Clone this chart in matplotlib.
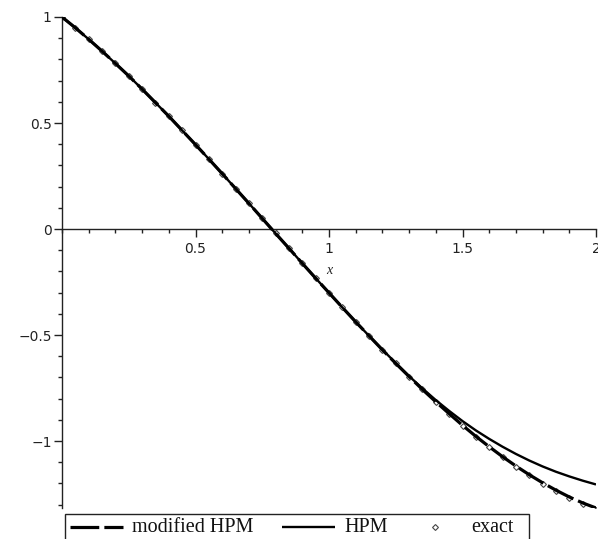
import matplotlib
matplotlib.use("Agg")
import matplotlib.pyplot as plt
from matplotlib.lines import Line2D
from matplotlib.patches import Rectangle
from matplotlib.ticker import MultipleLocator, FixedLocator

# ---- data ----
x_vals = [0.00, 0.05, 0.10, 0.15, 0.20, 0.25, 0.30, 0.35, 0.40, 0.45,
          0.50, 0.55, 0.60, 0.65, 0.70, 0.75, 0.80, 0.85, 0.90, 0.95,
          1.00, 1.05, 1.10, 1.15, 1.20, 1.25, 1.30, 1.35, 1.40, 1.45,
          1.50, 1.55, 1.60, 1.65, 1.70, 1.75, 1.80, 1.85, 1.90, 1.95, 2.00]

exact = [1.000, 0.949, 0.895, 0.839, 0.781, 0.722, 0.660, 0.596, 0.532, 0.465,
         0.398, 0.330, 0.261, 0.191, 0.121, 0.050, -0.021, -0.091, -0.162, -0.232,
         -0.301, -0.370, -0.438, -0.504, -0.570, -0.634, -0.696, -0.757, -0.815, -0.872,
         -0.927, -0.979, -1.029, -1.076, -1.121, -1.162, -1.201, -1.237, -1.270, -1.299, -1.325]

modified_hpm = [1.000, 0.949, 0.895, 0.839, 0.781, 0.722, 0.660, 0.596, 0.532, 0.465,
                0.398, 0.330, 0.261, 0.191, 0.121, 0.050, -0.021, -0.091, -0.162, -0.232,
                -0.301, -0.370, -0.438, -0.504, -0.570, -0.634, -0.696, -0.757, -0.815, -0.871,
                -0.926, -0.978, -1.027, -1.074, -1.118, -1.159, -1.197, -1.232, -1.264, -1.292, -1.316]

hpm = [1.000, 0.949, 0.895, 0.839, 0.781, 0.722, 0.660, 0.596, 0.532, 0.465,
       0.398, 0.330, 0.261, 0.191, 0.121, 0.050, -0.021, -0.091, -0.162, -0.232,
       -0.301, -0.370, -0.438, -0.504, -0.569, -0.632, -0.694, -0.752, -0.807, -0.858,
       -0.906, -0.950, -0.990, -1.027, -1.061, -1.092, -1.120, -1.145, -1.167, -1.187, -1.205]

x_ticks = [0.5, 1, 1.5, 2]
x_ticklabels = ["0.5", "1", "1.5", "2"]
y_ticks = [-1, -0.5, 0, 0.5, 1]
y_ticklabels = ["\u22121", "\u22120.5", "0", "0.5", "1"]
legend_labels = ["modified HPM", "HPM", "exact"]

W, H = 598, 539
fig = plt.figure(figsize=(W / 100, H / 100), dpi=100)
ax = fig.add_axes([62 / W, 31 / H, 534 / W, 491 / H])

def fp(px, py):
    return (px / W, 1 - py / H)

ax.plot(x_vals, exact, linestyle="none", marker="D", markersize=3.0,
        markerfacecolor="white", markeredgecolor="#444444", markeredgewidth=0.8, zorder=2)
ax.plot(x_vals, hpm, color="black", lw=1.7, solid_capstyle="butt", zorder=3)
ax.plot(x_vals, modified_hpm, color="black", lw=2.3, linestyle=(0, (9, 1.6)),
        dash_capstyle="butt", zorder=4)

ax.set_xlim(0, 2.0)
ax.set_ylim(-1.316, 1.0)

for s in ["top", "right"]:
    ax.spines[s].set_visible(False)
ax.spines["left"].set_position(("data", 0))
ax.spines["bottom"].set_position(("data", 0))
for s in ["left", "bottom"]:
    ax.spines[s].set_color("#222222")
    ax.spines[s].set_linewidth(1.0)

ax.xaxis.set_major_locator(FixedLocator(x_ticks))
ax.set_xticklabels(x_ticklabels)
ax.yaxis.set_major_locator(FixedLocator(y_ticks))
ax.set_yticklabels(y_ticklabels)
ax.xaxis.set_minor_locator(MultipleLocator(0.1))
ax.yaxis.set_minor_locator(MultipleLocator(0.1))
ax.tick_params(axis="both", which="major", direction="out", length=5.5, width=1.0,
               color="#222222", labelsize=10, labelcolor="#222222")
ax.tick_params(axis="both", which="minor", direction="out", length=3, width=1.0,
               color="#222222")
ax.tick_params(axis="x", which="major", pad=4)
ax.tick_params(axis="y", which="major", pad=2)

ax.text(1.0, -0.198, "x", fontfamily="Liberation Serif", fontstyle="italic",
        fontsize=10, ha="center", va="center", color="#222222")

# ---- legend (drawn below the axes as in the reference) ----
(bx0, by0) = fp(65, 545)
(bx1, by1) = fp(529, 514)
fig.add_artist(Rectangle((bx0, by0), bx1 - bx0, by1 - by0, transform=fig.transFigure,
                         facecolor="white", edgecolor="#222222", lw=1.0))
ly = 527
x0, y0 = fp(70, ly); x1, _ = fp(123, ly)
fig.add_artist(Line2D([x0, x1], [y0, y0], transform=fig.transFigure, color="black",
                      lw=2.3, linestyle=(0, (9, 1.6)), dash_capstyle="butt"))
x0, _ = fp(282, ly); x1, _ = fp(335, ly)
fig.add_artist(Line2D([x0, x1], [y0, y0], transform=fig.transFigure, color="black",
                      lw=1.7, solid_capstyle="butt"))
xd, _ = fp(435, ly)
fig.add_artist(Line2D([xd], [y0], transform=fig.transFigure, linestyle="none", marker="D",
                      markersize=3.0, markerfacecolor="white", markeredgecolor="#444444",
                      markeredgewidth=0.8))
for lab, px in zip(legend_labels, [132, 344, 471]):
    tx, ty = fp(px, 528)
    fig.text(tx, ty, lab, fontfamily="Liberation Serif", fontsize=14.5,
             ha="left", va="center", color="#111111")

fig.savefig("out.png", dpi=100)
